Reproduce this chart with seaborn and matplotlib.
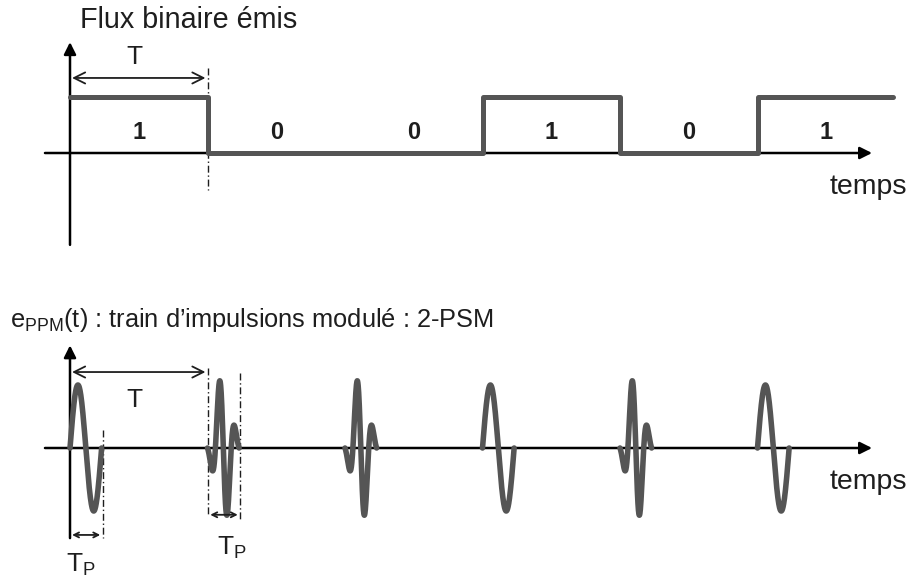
"""Flux binaire émis et train d'impulsions modulé 2-PSM (schéma)."""

import numpy as np
import pandas as pd
import matplotlib.pyplot as plt
import seaborn as sns

# bit sequence, times in units of the bit period T
bits = [1, 0, 0, 1, 0, 1]
bit_labels = ["1", "0", "0", "1", "0", "1"]
t_end = 5.985        # last level runs on to here
tp = 0.23            # pulse width as a fraction of T
amp_one = 1.0
amp_zero = 1.05
side_lobe = 0.3

SIG = "#555555"
INK = "#1e1e1e"

sns.set_style("white")
plt.rcParams["font.family"] = ["Liberation Sans", "DejaVu Sans"]
plt.rcParams["mathtext.fontset"] = "custom"
plt.rcParams["mathtext.rm"] = "Liberation Sans"
plt.rcParams["mathtext.it"] = "Liberation Sans"


def pulse_shape(bit, n=200):
    u = np.linspace(0, 1, n)
    if bit:
        return u, amp_one * np.sin(2 * np.pi * u)
    # four-lobe shape: small -, big +, big -, small +
    s2 = (0.375**2 - 0.125**2) / np.log(1 / side_lobe)
    env = np.exp(-((u - 0.5) ** 2) / s2) / np.exp(-(0.125**2) / s2)
    return u, -amp_zero * np.sin(4 * np.pi * u) * env


# step signal
steps = pd.DataFrame({
    "t": list(range(len(bits))) + [t_end],
    "level": bits + [bits[-1]],
})

# pulse train
rows = []
for k, b in enumerate(bits):
    u, e = pulse_shape(b)
    rows.append(pd.DataFrame({"t": k + u * tp, "e": e, "pulse": k}))
pulses = pd.concat(rows, ignore_index=True)

fig = plt.figure(figsize=(9.11, 5.81), dpi=100)
ax1 = fig.add_axes([0, 291 / 581, 1, 290 / 581])
ax2 = fig.add_axes([0, 0, 1, 291 / 581])
xlim = (-70 / 137.5, 841 / 137.5)
for ax in (ax1, ax2):
    ax.set_xlim(*xlim)
    ax.axis("off")
ax1.set_ylim(-2.446, 2.732)
ax2.set_ylim(-2.111, 2.508)

axis_arrow = dict(arrowstyle="-|>", color="black", lw=1.8,
                  mutation_scale=18, shrinkA=0, shrinkB=0)
both_arrow = dict(arrowstyle="<->", color=INK, lw=1.3,
                  mutation_scale=20, shrinkA=0, shrinkB=0)
small_arrow = dict(arrowstyle="<->", color=INK, lw=1.3,
                   mutation_scale=9, shrinkA=0, shrinkB=0)
dashdot = (0, (5, 2, 1, 2))

# --- top: binary stream ---
ax1.annotate("", xy=(5.833, 0), xytext=(-0.182, 0), arrowprops=axis_arrow)
ax1.annotate("", xy=(0, 1.98), xytext=(0, -1.64), arrowprops=axis_arrow)
sns.lineplot(data=steps, x="t", y="level", ax=ax1, color=SIG, lw=3.6,
             drawstyle="steps-post", estimator=None, sort=False, zorder=3)
for k, lab in enumerate(bit_labels):
    ax1.text(k + 0.5, 0.375, lab, ha="center", va="center",
             fontsize=17, fontweight="bold", color=INK)
ax1.annotate("", xy=(0.985, 1.34), xytext=(0.015, 1.34), arrowprops=both_arrow)
ax1.text(0.47, 1.72, "T", ha="center", va="center", fontsize=19, color=INK)
ax1.plot([1, 1], [1.52, -0.66], color=INK, lw=1.0, ls=dashdot)
ax1.text(0.075, 2.375, "Flux binaire émis", ha="left", va="center",
         fontsize=20.7, color=INK)
ax1.text(5.81, -0.607, "temps", ha="center", va="center",
         fontsize=20.5, color=INK)

# --- bottom: modulated pulse train ---
ax2.annotate("", xy=(5.833, 0), xytext=(-0.182, 0), arrowprops=axis_arrow)
ax2.annotate("", xy=(0, 1.63), xytext=(0, -1.43), arrowprops=axis_arrow)
sns.lineplot(data=pulses, x="t", y="e", units="pulse", ax=ax2, color=SIG,
             lw=4.0, estimator=None, sort=False, zorder=3)
ax2.annotate("", xy=(0.985, 1.206), xytext=(0.015, 1.206), arrowprops=both_arrow)
ax2.text(0.47, 0.76, "T", ha="center", va="center", fontsize=19, color=INK)
ax2.plot([1, 1], [1.27, -1.06], color=INK, lw=1.0, ls=dashdot)
ax2.plot([1.236, 1.236], [1.19, -1.14], color=INK, lw=1.0, ls=dashdot)
ax2.plot([0.24, 0.24], [0.29, -1.43], color=INK, lw=1.0, ls=dashdot)
ax2.annotate("", xy=(0.22, -1.38), xytext=(0.015, -1.38), arrowprops=small_arrow)
ax2.annotate("", xy=(1.22, -1.06), xytext=(1.02, -1.06), arrowprops=small_arrow)
ax2.text(0.08, -1.86, r"T$_{\mathrm{P}}$", ha="center", va="center",
         fontsize=19, color=INK)
ax2.text(1.18, -1.59, r"T$_{\mathrm{P}}$", ha="center", va="center",
         fontsize=19, color=INK)
ax2.text(-0.437, 2.03, r"e$_{\mathrm{PPM}}$(t) : train d’impulsions modulé : 2-PSM",
         ha="left", va="center", fontsize=18.3, color=INK)
ax2.text(5.81, -0.54, "temps", ha="center", va="center",
         fontsize=20.5, color=INK)

fig.savefig("out.png", dpi=100)
